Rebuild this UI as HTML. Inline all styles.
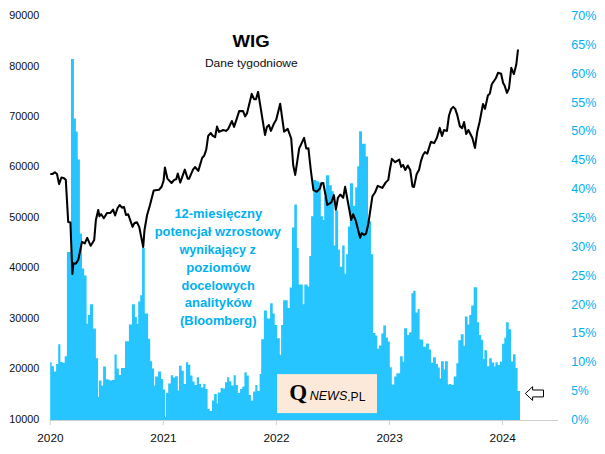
<!DOCTYPE html>
<html><head><meta charset="utf-8"><title>WIG</title>
<style>
html,body{margin:0;padding:0;background:#fff;}
body{width:605px;height:454px;overflow:hidden;font-family:"Liberation Sans",sans-serif;}
svg{display:block;}
text{font-family:"Liberation Sans",sans-serif;}
.ll{font-size:10.8px;fill:#0d0d0d;}
.rl{font-size:13.3px;fill:#00B0F0;}
.xl{font-size:11.8px;fill:#0d0d0d;}
.an{font-size:12.9px;font-weight:bold;fill:#00B0F0;}
</style></head><body>
<svg width="605" height="454" viewBox="0 0 605 454">
<rect width="605" height="454" fill="#fff"/>
<line x1="50" y1="420.5" x2="558" y2="420.5" stroke="#CFCFCF" stroke-width="1"/>
<path d="M50.2,420.0V362.2H51.7V366.3H53.9V371.5H56.1V364H58.2V344.3H60.4V362H62.6V362.8H64.7V356.2H66.9V252H69.0V252H71.0V59H73.9V118.5H75.9V131.6H77.7V159.4H79.9V233.5H82.0V268.6H84.2V275.5H86.6V323.7H87.9V315.1H89.9V304.3H93.0V328.4H95.9V358.2H98.1V397H98.9V380.4H101.5V385.4H103.1V366.5H105.9V379.3H107.9V379.7H109.8V380.6H111.8V379.9H114.5V354.6H116.7V368.5H118.8V375H121V368.1H125V341.3H128.9V324.4H132V304.3H134.9V317.1H136.9V323.7H138.2V301.6H140.2V295.3H142.1V247.9H144.8V313.5H148.1V338.7H150.2V361.2H152.15V368.4H154.1V385.5H155.1V376.4H158.1V371.5H161V379H163V389.6H165V417H166V392.9H168.2V383.4H170.8V375.2H173V377.6H175.1V376.2H177.8V390.5H179V365.7H181.6V370.7H183.8V384H186V362.3H188.1V364.7H190.3V375.6H192.5V381.6H194.6V385.1H196.8V377.2H199V384H201.1V387.5H203.3V384.1H205.5V389.1H207.6V408.9H209.8V410.9H212V400.4H214.1V394.1H216.8V403.4H217.8V392.5H220.6V388.1H222.8V388.5H225V382.2H227.1V377.2H229.3V381.2H231.4V385.5H233.6V375.2H235.8V385.1H237.9V393.1H240.1V389.1H242.3V386.5H244.4V372.2H246.6V375.6H248.8V395.1H250.9V400.4H253.1V391.5H255.3V385.1H257.4V391.1H259.6V374H261.2V339.2H263.9V310.5H266.9V318.4H270.1V303.2H272.7V313.5H274.7V325H277.1V338.3H279.8V354.8H281.1V325H283.1V300.3H287.7V307.9H289.7V287.6H292.0V227.5H294.3V204.4H296.9V248H298.7V284.6H302.8V304.2H304.3V284.6H307.6V286.6H309.2V255.9H311.1V216.3H313.3V179.9H316.3V181.2H318.9V182.6H320.8V216.3H322.9V220H324.2V197H325.9V175.3H329.2V185.2H331.8V191.2H333.8V245.5H335.2V210.5H338.1V249.6H339.9V266.8H342.2V245.6H344.6V273.7H346.1V254.2H347.9V226.6H349.9V183.2H353.0V205.8H355.2V187.2H357.2V166.3H359.1V131.2H362.0V143.8H365.7V156.4H368.0V221.3H371.0V254.2H373.1V332.9H375.4V335.5H377.3V348.8H378.9V345.4H381.3V333.5H383.3V325.5H385.9V337.4H387.9V341.4H389.8V367.2H391.8V384.5H394.2V376.5H396.4V373.2H400.1V356.3H402.7V361.7H404.1V328.3H407.1V335H409.1V332.3H411.4V293.2H413.2V290.7H415.6V312.5H417.6V309.1H419.6V339.4H423.2V346.8H425.9V343.4H428.9V349.4H431.1V362.6H433.1V357.3H435.9V364H438V367.6H439.8V378.5H441V361.3H443.8V369.6H445V361.3H447.8V384.5H449.3V383.9H451.3V385H453.7V376.5H456.3V363.2H458.3V340.2H460.8V334.3H463.6V345.8H464.9V316.4H467.6V324.4H469.2V315.1H471.2V305.5H473.7V287.3H477.1V322.3H479.1V334.9H481.1V339.8H483.1V358.7H484.4V350.2H487V366.3H489.2V358.3H491.8V362.6H494.2V366.5H495.4V362.2H497.8V365.1H499.8V361.6H502.1V343.7H504.3V337.8H506.1V322.3H508.7V329.2H511.1V361.6H513V354.2H515.6V367.9H517.6V391H520.0V420.0Z" fill="#26C5FF"/>
<line x1="50.20" y1="420.5" x2="50.20" y2="425" stroke="#CFCFCF" stroke-width="1"/>
<line x1="163.28" y1="420.5" x2="163.28" y2="425" stroke="#CFCFCF" stroke-width="1"/>
<line x1="276.36" y1="420.5" x2="276.36" y2="425" stroke="#CFCFCF" stroke-width="1"/>
<line x1="389.44" y1="420.5" x2="389.44" y2="425" stroke="#CFCFCF" stroke-width="1"/>
<line x1="502.52" y1="420.5" x2="502.52" y2="425" stroke="#CFCFCF" stroke-width="1"/>

<path d="M50.3,173.9L52.7,173.9L54.9,172.2L57,174L59.1,184.1L61.4,177.5L63.5,177.9L65.8,179.8L68.2,222L70.4,222.5L72.4,274L73.4,263.2L75.8,263.7L78.3,259.7L82,241.9L84.8,243.4L87.2,237.9L90.7,245.8L94.2,239.9L95.9,220L98.2,210L99.5,216.2L101.2,214.2L103.8,218.2L107.1,212.9L110.5,212.9L113.1,209.6L115.1,215.5L117.5,208.3L119.7,205L122,207.7L124,207L126,215L128.2,214.3L132.6,226.9L134.5,222.9L136.9,222.2L139.2,226.9L143.2,247L144.5,230L147.1,215L149.8,205.7L153.7,190.5L159,189.8L161.7,186.5L163.6,180.6L164.9,167.6L167.4,178.6L171.6,183L174.2,179.9L176.2,179.2L177.8,173.6L180.2,182.6L184.8,169.6L187.7,178.8L189,178.8L193,169.6L195,167L198.3,170.9L202.2,157.7L204.2,155.7L206.2,149.8L208.2,135.9L210.8,133L212.8,135.9L215.1,137.2L217,126.6L219,131.9L223.3,130L226,130.9L228.2,128.9L231.9,121L234.1,126.9L239.2,111.1L243.1,111.1L245.1,116.4L247.1,113.1L251.7,93.9L254.1,99.2L256,99.2L258.1,91.9L265,134.9L266.9,126.9L268.9,125L270.9,130.9L273.6,124.3L276.2,119.7L280.2,103.8L284.1,131.6L287.7,128.9L291.2,138.5L293.2,165L295.2,174.9L299.2,148.4L304.1,137.9L306.2,148.4L308.4,148.2L310.8,170L313.4,189.8L316.7,191.8L320,188.5L321.4,183.2L323.3,183L327.3,205L331.3,202.4L333.9,195.1L335.9,209.7L337.9,197.8L340.3,194.5L343.2,197.8L345.1,186.8L351.2,220L353.1,214.2L355.8,220.7L360.1,237.7L361.7,233.1L364.1,235L366,233.7L368.3,224L372.4,196.4L375,192.5L377.7,185.9L382.3,187.9L385.6,182.6L388.3,179.9L389.8,170L391.9,158.9L395.2,162.2L399.2,159.6L401.2,166.9L403.1,164.9L405.3,170L407.8,165.5L410.2,170L412.5,186.5L414,186.9L416.7,174L419,170L421,160.9L423,155L425,152L427.3,153.6L430.9,141.7L434.2,143.1L436.9,137.8L439.8,127.9L442,136L444,130L446.9,131L449,115.5L451.2,108.9L453.2,106.9L455.2,108.9L457.2,114.8L459.8,126.1L462.2,128.1L464.1,122.1L466.2,134L468.4,130L472.4,138L475,147.9L477.3,131.4L479.7,121.4L483,104L485,108.9L487.9,95.5L489.8,93.6L491.8,84.3L495.8,78.3L498,72.8L501.1,73.7L503.1,83L504.6,85.6L507,92.9L509,88.3L511.3,67.8L513.9,74.1L516.3,64.5L518,49.5" fill="none" stroke="#000" stroke-width="2.05" stroke-linejoin="round" stroke-linecap="butt"/>
<text x="39.3" y="19.05" text-anchor="end" class="ll">90000</text>
<text x="39.3" y="69.50" text-anchor="end" class="ll">80000</text>
<text x="39.3" y="119.95" text-anchor="end" class="ll">70000</text>
<text x="39.3" y="170.40" text-anchor="end" class="ll">60000</text>
<text x="39.3" y="220.85" text-anchor="end" class="ll">50000</text>
<text x="39.3" y="271.30" text-anchor="end" class="ll">40000</text>
<text x="39.3" y="321.75" text-anchor="end" class="ll">30000</text>
<text x="39.3" y="372.20" text-anchor="end" class="ll">20000</text>
<text x="39.3" y="422.65" text-anchor="end" class="ll">10000</text>

<text x="571.3" y="20.06" textLength="25.0" lengthAdjust="spacingAndGlyphs" class="rl">70%</text>
<text x="571.3" y="48.91" textLength="25.0" lengthAdjust="spacingAndGlyphs" class="rl">65%</text>
<text x="571.3" y="77.76" textLength="25.0" lengthAdjust="spacingAndGlyphs" class="rl">60%</text>
<text x="571.3" y="106.61" textLength="25.0" lengthAdjust="spacingAndGlyphs" class="rl">55%</text>
<text x="571.3" y="135.46" textLength="25.0" lengthAdjust="spacingAndGlyphs" class="rl">50%</text>
<text x="571.3" y="164.31" textLength="25.0" lengthAdjust="spacingAndGlyphs" class="rl">45%</text>
<text x="571.3" y="193.16" textLength="25.0" lengthAdjust="spacingAndGlyphs" class="rl">40%</text>
<text x="571.3" y="222.01" textLength="25.0" lengthAdjust="spacingAndGlyphs" class="rl">35%</text>
<text x="571.3" y="250.86" textLength="25.0" lengthAdjust="spacingAndGlyphs" class="rl">30%</text>
<text x="571.3" y="279.71" textLength="25.0" lengthAdjust="spacingAndGlyphs" class="rl">25%</text>
<text x="571.3" y="308.56" textLength="25.0" lengthAdjust="spacingAndGlyphs" class="rl">20%</text>
<text x="571.3" y="337.41" textLength="25.0" lengthAdjust="spacingAndGlyphs" class="rl">15%</text>
<text x="571.3" y="366.26" textLength="25.0" lengthAdjust="spacingAndGlyphs" class="rl">10%</text>
<text x="571.3" y="395.11" textLength="17.3" lengthAdjust="spacingAndGlyphs" class="rl">5%</text>
<text x="571.3" y="423.96" textLength="17.3" lengthAdjust="spacingAndGlyphs" class="rl">0%</text>

<text x="50.40" y="442.2" text-anchor="middle" class="xl">2020</text>
<text x="163.48" y="442.2" text-anchor="middle" class="xl">2021</text>
<text x="276.56" y="442.2" text-anchor="middle" class="xl">2022</text>
<text x="389.64" y="442.2" text-anchor="middle" class="xl">2023</text>
<text x="502.72" y="442.2" text-anchor="middle" class="xl">2024</text>

<text x="232.6" y="47.2" textLength="37.1" lengthAdjust="spacingAndGlyphs" style="font-size:17.2px;font-weight:bold;fill:#000">WIG</text>
<text x="204.9" y="67" textLength="92.8" lengthAdjust="spacingAndGlyphs" style="font-size:11.5px;fill:#0d0d0d">Dane tygodniowe</text>
<text x="174.4" y="217.70" textLength="87.8" lengthAdjust="spacingAndGlyphs" class="an">12-miesięczny</text>
<text x="154.7" y="236.20" textLength="126.3" lengthAdjust="spacingAndGlyphs" class="an">potencjał wzrostowy</text>
<text x="179.5" y="254.10" textLength="76.2" lengthAdjust="spacingAndGlyphs" class="an">wynikający z</text>
<text x="186.2" y="272.20" textLength="64.2" lengthAdjust="spacingAndGlyphs" class="an">poziomów</text>
<text x="181.6" y="289.50" textLength="73.1" lengthAdjust="spacingAndGlyphs" class="an">docelowych</text>
<text x="184.7" y="307.10" textLength="66.9" lengthAdjust="spacingAndGlyphs" class="an">analityków</text>
<text x="180.1" y="324.70" textLength="76.4" lengthAdjust="spacingAndGlyphs" class="an">(Bloomberg)</text>

<rect x="277.1" y="374.1" width="99.9" height="39" fill="#FDE9D9"/>
<text x="289.2" y="400.3" style="font-family:'Liberation Serif',serif;font-weight:bold;font-size:23px;fill:#000">Q</text>
<text x="309.8" y="400.3" style="font-style:italic;font-size:12.2px;fill:#000" textLength="37.4" lengthAdjust="spacingAndGlyphs">NEWS</text>
<text x="347.2" y="400.5" style="font-size:13.3px;fill:#000" textLength="18.2" lengthAdjust="spacingAndGlyphs">.PL</text>
<path d="M525.4,393.5L532.6,386.7V390H543.5V396.9H532.6V400.4Z" fill="#fff" stroke="#000" stroke-width="1" stroke-linejoin="miter"/>
</svg>
</body></html>
